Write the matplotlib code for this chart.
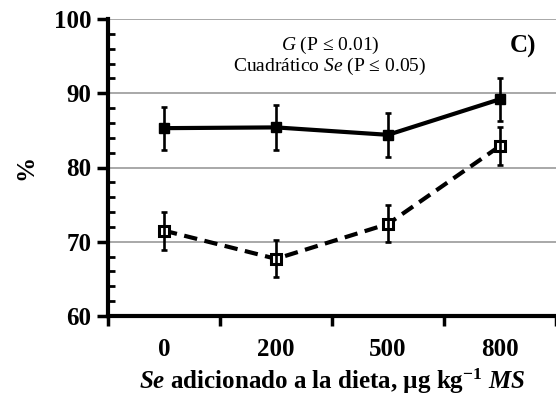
import matplotlib
matplotlib.use("Agg")
import matplotlib.pyplot as plt
import numpy as np
from matplotlib.ticker import MultipleLocator, FixedLocator

plt.rcParams['font.family'] = ['Liberation Serif', 'DejaVu Serif']
plt.rcParams['mathtext.fontset'] = 'custom'
plt.rcParams['mathtext.rm'] = 'Liberation Serif'
plt.rcParams['mathtext.it'] = 'Liberation Serif:italic'
plt.rcParams['mathtext.bf'] = 'Liberation Serif:bold'
plt.rcParams['mathtext.bfit'] = 'Liberation Serif:bold:italic'

categories = ["0", "200", "500", "800"]
solid_vals = [85.3, 85.4, 84.4, 89.2]
solid_err = [2.9, 3.0, 2.95, 2.9]
dashed_vals = [71.5, 67.7, 72.4, 82.9]
dashed_err = [2.55, 2.5, 2.5, 2.6]

fig = plt.figure(figsize=(5.56, 4.05), dpi=100)
ax = fig.add_axes([108/556, 1-316/405, 448/556, (316-19)/405])

x = np.arange(len(categories))
ax.plot(x, solid_vals, color='black', lw=3, marker='s', ms=7.5,
        mfc='black', mec='black', zorder=3)
ax.plot(x, dashed_vals, color='black', lw=3, ls=(0, (3.2, 1.8)),
        marker='s', ms=7, mfc='white', mec='black', mew=2.2, zorder=3)
ax.errorbar(x, solid_vals, yerr=solid_err, fmt='none', ecolor='black',
            elinewidth=1.9, capsize=2, capthick=1.9, zorder=4)
ax.errorbar(x, dashed_vals, yerr=dashed_err, fmt='none', ecolor='black',
            elinewidth=1.9, capsize=2, capthick=1.9, zorder=4)

ax.set_xlim(-0.5, 3.5)
ax.set_ylim(60, 100)
ax.yaxis.set_major_locator(MultipleLocator(10))
ax.yaxis.set_minor_locator(MultipleLocator(2))
for yv in [70, 80, 90, 100]:
    ax.axhline(yv, color='#9a9a9a', lw=1.2, zorder=1)

ax.xaxis.set_major_locator(FixedLocator([-0.5, 0.5, 1.5, 2.5, 3.5]))
ax.xaxis.set_major_formatter(plt.NullFormatter())
ax.xaxis.set_minor_locator(FixedLocator(x))
ax.set_xticklabels(categories, minor=True)
ax.tick_params(axis='x', which='major', direction='out', length=7, width=2.5)
ax.tick_params(axis='x', which='minor', length=0, pad=16, labelsize=18)
ax.tick_params(axis='y', which='major', direction='out', length=8, width=2.5, labelsize=18, pad=4)
ax.tick_params(axis='y', which='minor', direction='in', length=5, width=2)
for lab in ax.get_xticklabels(minor=True) + ax.get_yticklabels():
    lab.set_fontweight('bold')

for s in ['top', 'right']:
    ax.spines[s].set_visible(False)
for s in ['left', 'bottom']:
    ax.spines[s].set_linewidth(3)

ax.set_ylabel('%', fontsize=18, fontweight='bold', labelpad=12)
ax.set_xlabel(r"$\mathbfit{Se}$ adicionado a la dieta, µg kg$^{\mathbf{-1}}$ $\mathbfit{MS}$",
              fontsize=18, fontweight='bold', labelpad=4)

fig.text(330/556, 1-45/405, r"$\mathit{G}$ (P ≤ 0.01)", ha='center', va='center', fontsize=14)
fig.text(330/556, 1-66/405, r"Cuadrático $\mathit{Se}$ (P ≤ 0.05)", ha='center', va='center', fontsize=14)
fig.text(523/556, 1-46/405, "C)", ha='center', va='center', fontsize=18, fontweight='bold')

fig.savefig('out.png', dpi=100)
